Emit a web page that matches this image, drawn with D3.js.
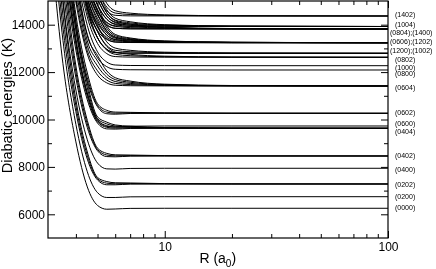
<!DOCTYPE html>
<html>
<head>
<meta charset="utf-8">
<script src="https://cdn.jsdelivr.net/npm/d3@7"></script>
<style>
  body { margin: 0; background: #fff; }
  svg { display: block; font-family: "Liberation Sans", Arial, Helvetica, sans-serif; will-change: transform; }
  .curve { fill: none; stroke: #000; stroke-width: 1; }
  .axis path { display: none; }
  .axis line { stroke: #000; stroke-width: 1; }
  .axis text { font-size: 12px; fill: #000; }
</style>
</head>
<body>
<script>
// R grid (bohr) shared by all curves
var rGrid = [3, 3.5, 4, 4.5, 5, 5.5, 6, 7, 10, 20, 100];

// asymptotic level of each (j1 j2) state, K
var stateNames  = ["(0000)", "(0200)", "(0202)", "(0400)", "(0402)", "(0404)", "(0600)", "(0602)", "(0604)", "(0606)",
                   "(0800)", "(0802)", "(0804)", "(1000)", "(1002)", "(1004)", "(1200)", "(1202)", "(1400)", "(1402)"];
var stateLevels = [6254, 6743, 7279, 7942, 8460, 9629, 9726, 10262, 11414, 13240,
                   12089, 12625, 13819, 12270, 12793, 13924, 12793, 13240, 13819, 14367];

// every curve: its state and its height above the asymptote on rGrid (K)
var curveStates = [
  "(0000)", "(0200)", "(0202)", "(0202)", "(0202)", "(0400)", "(0402)", "(0402)", "(0402)",
  "(0404)", "(0404)", "(0404)", "(0404)", "(0404)", "(0600)", "(0602)", "(0602)", "(0602)",
  "(0604)", "(0604)", "(0604)", "(0604)", "(0604)", "(0800)", "(1000)", "(0802)", "(0802)", "(0802)",
  "(1200)", "(1002)", "(1002)", "(1002)",
  "(0606)", "(0606)", "(0606)", "(0606)", "(0606)", "(0606)", "(0606)", "(1202)", "(1202)", "(1202)",
  "(0804)", "(0804)", "(0804)", "(0804)", "(0804)", "(1400)",
  "(1004)", "(1004)", "(1004)", "(1004)", "(1004)", "(1402)", "(1402)", "(1402)"
];
var curveOffsets = [
  [12500, 6100, 2800, 900, 120, -40, -30, -5, 0, 0, 0],
  [13250, 6600, 3050, 1050, 170, -33, -33, -6, 0, 0, 0],
  [13250, 6600, 3050, 1050, 170, -33, -33, -6, 0, 0, 0],
  [14000, 7100, 3300, 1200, 220, 35, 10, 18, 8, 2, 0],
  [14850, 7650, 3550, 1350, 275, 102, 52, 42, 16, 4, 0],
  [14000, 7100, 3300, 1200, 220, -25, -35, -7, 0, 0, 0],
  [14000, 7100, 3300, 1200, 220, -25, -35, -7, 0, 0, 0],
  [14850, 7650, 3550, 1350, 275, 42, 7, 17, 8, 2, 0],
  [15700, 8200, 3800, 1500, 330, 110, 50, 40, 16, 4, 0],
  [14000, 7100, 3300, 1200, 220, -25, -35, -7, 0, 0, 0],
  [14850, 7650, 3550, 1350, 275, 42, 7, 17, 8, 2, 0],
  [15700, 8200, 3800, 1500, 330, 110, 50, 40, 16, 4, 0],
  [16550, 8850, 4150, 1700, 405, 185, 95, 64, 24, 6, 0],
  [17400, 9500, 4500, 1900, 480, 260, 140, 88, 32, 8, 0],
  [14850, 7650, 3550, 1350, 275, -18, -38, -8, 0, 0, 0],
  [14850, 7650, 3550, 1350, 275, -18, -38, -8, 0, 0, 0],
  [15700, 8200, 3800, 1500, 330, 50, 5, 15, 8, 2, 0],
  [16550, 8850, 4150, 1700, 405, 125, 50, 39, 16, 4, 0],
  // (0604)
  [14850, 7650, 3550, 1350, 455, 132, 32, 12, 4, 0, 0],
  [15700, 8200, 3800, 1500, 640, 250, 110, 60, 22, 5, 0],
  [16550, 8850, 4150, 1700, 845, 375, 190, 109, 40, 10, 0],
  [17400, 9500, 4500, 1900, 1050, 500, 270, 158, 58, 15, 0],
  [18300, 10250, 4900, 2120, 1290, 635, 350, 207, 76, 20, 0],
  // (0800), (1000)
  [15700, 8200, 3800, 1500, 510, 140, 30, 10, 4, 0, 0],
  [16550, 8850, 4150, 1700, 585, 155, 30, 9, 4, 0, 0],
  // (0802)
  [16550, 8850, 4150, 1700, 585, 155, 30, 9, 4, 0, 0],
  [17400, 9500, 4500, 1900, 816, 302, 126, 68, 26, 6, 0],
  [18300, 10250, 4900, 2120, 1082, 459, 222, 127, 47, 12, 0],
  // (1200)
  [17400, 9500, 4500, 1900, 660, 170, 30, 8, 4, 0, 0],
  // (1002)
  [17400, 9500, 4500, 1900, 660, 170, 30, 8, 4, 0, 0],
  [18300, 10250, 4900, 2120, 926, 327, 126, 67, 26, 6, 0],
  [19200, 11000, 5300, 2350, 1192, 484, 222, 126, 47, 12, 0],
  // (0606)
  [15700, 8200, 3800, 1500, 510, 140, 30, 10, 4, 0, 0],
  [16550, 8850, 4150, 1700, 672, 228, 83, 42, 16, 3, 0],
  [17400, 9500, 4500, 1900, 833, 317, 137, 75, 28, 7, 0],
  [18300, 10250, 4900, 2120, 1030, 415, 190, 107, 40, 10, 0],
  [19200, 11000, 5300, 2350, 1227, 513, 243, 139, 52, 13, 0],
  [20100, 11750, 5700, 2570, 1413, 612, 297, 170, 64, 17, 0],
  [21000, 12500, 6100, 2800, 1600, 710, 350, 200, 76, 20, 0],
  // (1202)
  [17400, 9500, 4500, 1900, 660, 170, 30, 8, 4, 0, 0],
  [18300, 10250, 4900, 2120, 926, 327, 126, 67, 26, 6, 0],
  [19200, 11000, 5300, 2350, 1192, 484, 222, 126, 47, 12, 0],
  // (0804)
  [16550, 8850, 4150, 1700, 585, 155, 30, 9, 4, 0, 0],
  [17400, 9500, 4500, 1900, 790, 280, 110, 58, 22, 5, 0],
  [18300, 10250, 4900, 2120, 1030, 415, 190, 107, 40, 10, 0],
  [19200, 11000, 5300, 2350, 1270, 550, 270, 156, 58, 15, 0],
  [20100, 11750, 5700, 2570, 1500, 685, 350, 203, 76, 20, 0],
  // (1400)
  [18300, 10250, 4900, 2120, 770, 195, 30, 7, 4, 0, 0],
  // (1004)
  [17400, 9500, 4500, 1900, 660, 170, 30, 8, 4, 0, 0],
  [18300, 10250, 4900, 2120, 900, 305, 110, 57, 22, 5, 0],
  [19200, 11000, 5300, 2350, 1140, 440, 190, 106, 40, 10, 0],
  [20100, 11750, 5700, 2570, 1370, 575, 270, 153, 58, 15, 0],
  [21000, 12500, 6100, 2800, 1600, 710, 350, 200, 76, 20, 0],
  // (1402)
  [19200, 11000, 5300, 2350, 880, 220, 30, 6, 4, 0, 0],
  [20100, 11750, 5700, 2570, 1136, 377, 126, 63, 26, 6, 0],
  [21000, 12500, 6100, 2800, 1392, 534, 222, 120, 47, 12, 0]
];

// labels on the right and the energy they sit at
var labelTexts    = ["(1402)", "(1004)", "(0804);(1400)", "(0606);(1202)", "(1200);(1002)", "(0802)", "(1000)", "(0800)",
                     "(0604)", "(0602)", "(0600)", "(0404)", "(0402)", "(0400)", "(0202)", "(0200)", "(0000)"];
var labelEnergies = [14409, 13987, 13650, 13270, 12890, 12511, 12210, 11920,
                     11330, 10275, 9811, 9473, 8460, 7870, 7237, 6731, 6267];

var xMajor = [10, 100];
var xMinor = [4, 5, 6, 7, 8, 9, 20, 30, 40, 50, 60, 70, 80, 90];
var yMajor = [6000, 8000, 10000, 12000, 14000];
var yMinor = [7000, 9000, 11000, 13000];

var W = 436, H = 269;
var m = {left: 48, right: 48, top: 1, bottom: 31};
var pw = W - m.left - m.right, ph = H - m.top - m.bottom;

var svg = d3.select("body").append("svg").attr("width", W).attr("height", H);

var x = d3.scaleLog().domain([3, 100]).range([0, pw]);
var y = d3.scaleLinear().domain([5000, 15000]).range([ph, 0]);

var g = svg.append("g").attr("transform", "translate(" + m.left + "," + m.top + ")");

g.append("clipPath").attr("id", "clip")
  .append("rect").attr("width", pw).attr("height", ph);

var line = d3.line()
  .x(function(d) { return x(d[0]); })
  .y(function(d) { return y(d[1]); })
  .curve(d3.curveMonotoneX);

var curves = curveOffsets.map(function(off, i) {
  var level = stateLevels[stateNames.indexOf(curveStates[i])];
  return rGrid.map(function(r, j) { return [r, level + off[j]]; });
});

g.append("g").attr("clip-path", "url(#clip)")
  .selectAll("path")
  .data(curves)
  .enter()
  .append("path")
  .attr("class", "curve")
  .attr("d", line);

// axes, ticks inward
function noLabel() { return ""; }
g.append("g").attr("class", "axis").attr("transform", "translate(0," + ph + ")")
  .call(d3.axisBottom(x).tickValues(xMajor).tickSize(-7).tickPadding(4).tickFormat(d3.format("d")));
g.append("g").attr("class", "axis").attr("transform", "translate(0," + ph + ")")
  .call(d3.axisBottom(x).tickValues(xMinor).tickSize(-4).tickFormat(noLabel));
g.append("g").attr("class", "axis")
  .call(d3.axisTop(x).tickValues(xMajor).tickSize(-7).tickFormat(noLabel));
g.append("g").attr("class", "axis")
  .call(d3.axisTop(x).tickValues(xMinor).tickSize(-4).tickFormat(noLabel));

g.append("g").attr("class", "axis")
  .call(d3.axisLeft(y).tickValues(yMajor).tickSize(-7).tickPadding(3).tickFormat(d3.format("d")));
g.append("g").attr("class", "axis")
  .call(d3.axisLeft(y).tickValues(yMinor).tickSize(-4).tickFormat(noLabel));
g.append("g").attr("class", "axis").attr("transform", "translate(" + pw + ",0)")
  .call(d3.axisRight(y).tickValues(yMajor).tickSize(-7).tickFormat(noLabel));
g.append("g").attr("class", "axis").attr("transform", "translate(" + pw + ",0)")
  .call(d3.axisRight(y).tickValues(yMinor).tickSize(-4).tickFormat(noLabel));

g.append("rect")
  .attr("width", pw).attr("height", ph)
  .attr("fill", "none").attr("stroke", "#000").attr("stroke-width", 1.2);

// state labels
svg.selectAll("text.state")
  .data(labelTexts)
  .enter()
  .append("text")
  .attr("class", "state")
  .attr("x", function(d) { return d.indexOf(";") >= 0 ? 390 : 395; })
  .attr("y", function(d, i) { return m.top + y(labelEnergies[i]); })
  .attr("dy", "0.35em")
  .attr("font-size", "7px")
  .text(function(d) { return d; });

// axis titles
svg.append("text")
  .attr("transform", "translate(12," + (m.top + ph / 2 - 14) + ") rotate(-90)")
  .attr("text-anchor", "middle")
  .attr("font-size", "14.5px")
  .text("Diabatic energies (K)");

var xt = svg.append("text")
  .attr("x", m.left + x(10) + 53)
  .attr("y", 263)
  .attr("text-anchor", "middle")
  .attr("font-size", "14px");
xt.append("tspan").text("R (a");
xt.append("tspan").attr("font-size", "10px").attr("dy", 4).text("0");
xt.append("tspan").attr("dy", -4).text(")");
</script>
</body>
</html>
